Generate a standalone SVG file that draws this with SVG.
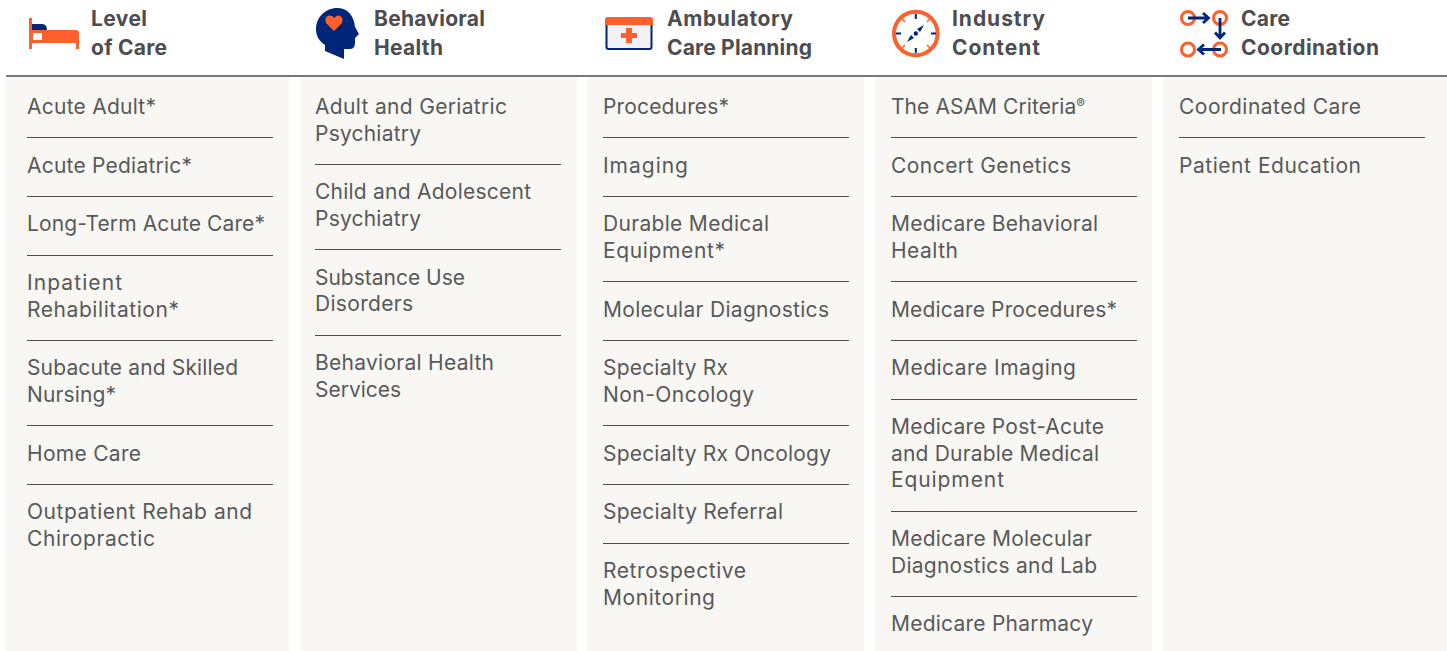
<svg xmlns="http://www.w3.org/2000/svg" width="1447" height="651" viewBox="0 0 1447 651">
<style>
.col{fill:#f8f7f3}
.sep{stroke:#4d4d4f;stroke-width:1;fill:none}
.t{font-family:Inter,"Noto Sans",sans-serif;font-size:21px;fill:#58595b}
.h{font-family:Inter,"Noto Sans",sans-serif;font-size:21px;font-weight:700;fill:#4d4d4f}
.o{fill:#ff5f2c}.n{fill:#00267a}
.os{stroke:#ff5f2c;fill:none}.ns{stroke:#00267a;fill:none}
</style>
<rect width="1447" height="651" fill="#fff"/>
<g id="bg">
<rect class="col" x="6" y="77" width="283" height="574"/>
<rect class="col" x="300" y="77" width="277" height="574"/>
<rect class="col" x="587.500" y="77" width="277" height="574"/>
<rect class="col" x="875.500" y="77" width="277" height="574"/>
<rect class="col" x="1163.500" y="77" width="283.500" height="574"/>
<path d="M6 76H1447" stroke="#4d4d4f" stroke-width="1.500" fill="none"/>
</g>
<g id="level-of-care">
<rect class="o" x="29" y="18" width="3" height="31"/>
<path class="n" d="M32 24H42Q47 24 47 30H32Z"/>
<path class="o" fill-rule="evenodd" d="M32 30H76Q79 30 79 33V49H76V43H32ZM33 33V40H42V33Z"/>
<text class="h" x="91" y="26" textLength="56">Level</text><text class="h" x="91" y="55" textLength="76">of Care</text>
<g>
<text class="t" x="27" y="114" textLength="129">Acute Adult*</text><path class="sep" d="M27 137.500H273"/>
<text class="t" x="27" y="173" textLength="165">Acute Pediatric*</text><path class="sep" d="M27 196.500H273"/>
<text class="t" x="27" y="231" textLength="238">Long-Term Acute Care*</text><path class="sep" d="M27 255.500H273"/>
<text class="t" x="27" y="290" textLength="95">Inpatient</text><text class="t" x="27" y="317" textLength="152">Rehabilitation*</text><path class="sep" d="M27 340.500H273"/>
<text class="t" x="27" y="375" textLength="211">Subacute and Skilled</text><text class="t" x="27" y="402" textLength="89">Nursing*</text><path class="sep" d="M27 425.500H273"/>
<text class="t" x="27" y="461" textLength="114">Home Care</text><path class="sep" d="M27 484.500H273"/>
<text class="t" x="27" y="519" textLength="225">Outpatient Rehab and</text><text class="t" x="27" y="546" textLength="128">Chiropractic</text>
</g></g>
<g id="behavioral-health">
<path class="n" d="M337 8C326 8 316 17 316 29C316 36 319 41 325 45V51L344 59V49H350C354 49 355 46 355 42V38L359 34L355 27C354 15 347 8 337 8Z"/>
<path class="o" d="M334 31L326 23Q324 17 329 15.500Q333 15 334 18Q336 15 339 15.500Q344 17 342 23Z"/>
<text class="h" x="374" y="26" textLength="111">Behavioral</text><text class="h" x="374" y="55" textLength="69">Health</text>
<g>
<text class="t" x="315" y="114" textLength="192">Adult and Geriatric</text><text class="t" x="315" y="141" textLength="106">Psychiatry</text><path class="sep" d="M315 164.500H561"/>
<text class="t" x="315" y="199" textLength="216">Child and Adolescent</text><text class="t" x="315" y="226" textLength="106">Psychiatry</text><path class="sep" d="M315 249.500H561"/>
<text class="t" x="315" y="285" textLength="150">Substance Use</text><text class="t" x="315" y="311" textLength="98">Disorders</text><path class="sep" d="M315 335.500H561"/>
<text class="t" x="315" y="370" textLength="179">Behavioral Health</text><text class="t" x="315" y="397" textLength="86">Services</text>
</g></g>
<g id="ambulatory-care-planning">
<rect x="606.500" y="18.500" width="45" height="30.500" rx="2" fill="#f1f1f6" stroke="#00267a" stroke-width="2"/>
<path class="o" d="M605 20Q605 17 608 17H650Q653 17 653 20V25H605Z"/>
<path class="o" d="M626 28H632V33H637V38H632V43H626V38H621V33H626Z"/>
<text class="h" x="667" y="26" textLength="126">Ambulatory</text><text class="h" x="667" y="55" textLength="145">Care Planning</text>
<g>
<text class="t" x="603" y="114" textLength="126">Procedures*</text><path class="sep" d="M603 137.500H849"/>
<text class="t" x="603" y="173" textLength="85">Imaging</text><path class="sep" d="M603 196.500H849"/>
<text class="t" x="603" y="231" textLength="166">Durable Medical</text><text class="t" x="603" y="258" textLength="122">Equipment*</text><path class="sep" d="M603 281.500H849"/>
<text class="t" x="603" y="317" textLength="226">Molecular Diagnostics</text><path class="sep" d="M603 340.500H849"/>
<text class="t" x="603" y="375" textLength="125">Specialty Rx</text><text class="t" x="603" y="402" textLength="151">Non-Oncology</text><path class="sep" d="M603 425.500H849"/>
<text class="t" x="603" y="461" textLength="228">Specialty Rx Oncology</text><path class="sep" d="M603 484.500H849"/>
<text class="t" x="603" y="519" textLength="180">Specialty Referral</text><path class="sep" d="M603 543.500H849"/>
<text class="t" x="603" y="578" textLength="143">Retrospective</text><text class="t" x="603" y="605" textLength="112">Monitoring</text>
</g></g>
<g id="industry-content">
<circle class="os" cx="915.800" cy="33.500" r="21.800" stroke-width="4"/>
<path class="ns" stroke-width="2" d="M915.800 14V19M915.800 48V53M896 33.500H901M931 33.500H936"/>
<path class="os" stroke-width="1.500" d="M902 19L905 22M930 19L927 22M902 48L905 45M930 48L927 45"/>
<path class="n" d="M924 25L920 32L917 29ZM907 42L911 35L914 38Z"/>
<circle cx="915.800" cy="33.500" r="2.200" class="n"/>
<text class="h" x="952" y="26" textLength="93">Industry</text><text class="h" x="952" y="55" textLength="88">Content</text>
<g>
<text class="t" x="891" y="114" textLength="194">The ASAM Criteria<tspan font-size="13" dy="-6">®</tspan></text><path class="sep" d="M891 137.500H1137"/>
<text class="t" x="891" y="173" textLength="180">Concert Genetics</text><path class="sep" d="M891 196.500H1137"/>
<text class="t" x="891" y="231" textLength="207">Medicare Behavioral</text><text class="t" x="891" y="258" textLength="67">Health</text><path class="sep" d="M891 281.500H1137"/>
<text class="t" x="891" y="317" textLength="226">Medicare Procedures*</text><path class="sep" d="M891 340.500H1137"/>
<text class="t" x="891" y="375" textLength="185">Medicare Imaging</text><path class="sep" d="M891 399.500H1137"/>
<text class="t" x="891" y="434" textLength="213">Medicare Post-Acute</text><text class="t" x="891" y="461" textLength="208">and Durable Medical</text><text class="t" x="891" y="487" textLength="113">Equipment</text><path class="sep" d="M891 511.500H1137"/>
<text class="t" x="891" y="546" textLength="201">Medicare Molecular</text><text class="t" x="891" y="573" textLength="206">Diagnostics and Lab</text><path class="sep" d="M891 596.500H1137"/>
<text class="t" x="891" y="631" textLength="202">Medicare Pharmacy</text>
</g></g>
<g id="care-coordination">
<g class="os" stroke-width="3"><circle cx="1188" cy="18" r="6.500"/><circle cx="1220" cy="18" r="6.500"/><circle cx="1188" cy="49.500" r="6.500"/><circle cx="1220" cy="49.500" r="6.500"/></g>
<g class="ns" stroke-width="2.800"><path d="M1188 18H1207M1203 13L1208.500 18L1203 23"/><path d="M1220 18V37M1215 32.500L1220 38L1225 32.500"/><path d="M1221 49.500H1200M1204 44.500L1198.500 49.500L1204 54.500"/></g>
<text class="h" x="1241" y="26" textLength="49">Care</text><text class="h" x="1241" y="55" textLength="138">Coordination</text>
<g>
<text class="t" x="1179" y="114" textLength="182">Coordinated Care</text><path class="sep" d="M1179 137.500H1425"/>
<text class="t" x="1179" y="173" textLength="182">Patient Education</text>
</g></g>
</svg>
